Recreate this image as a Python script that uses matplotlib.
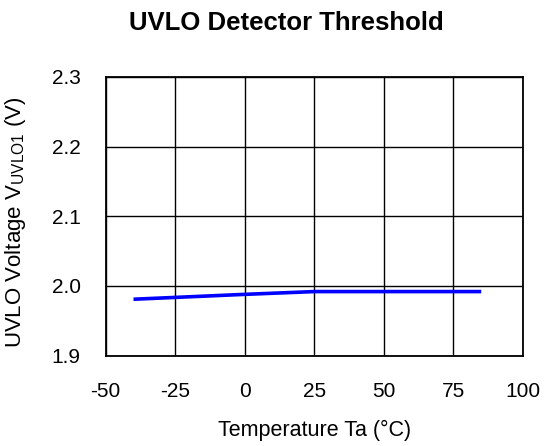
import matplotlib.pyplot as plt

temp = [-40, 0, 25, 85]
uvlo = [1.981, 1.988, 1.992, 1.992]

x_ticks = [-50, -25, 0, 25, 50, 75, 100]
y_ticks = [1.9, 2.0, 2.1, 2.2, 2.3]

plt.rcParams['font.family'] = ['Liberation Sans', 'DejaVu Sans']
plt.rcParams['mathtext.fontset'] = 'custom'
plt.rcParams['mathtext.rm'] = 'Liberation Sans'
plt.rcParams['axes.unicode_minus'] = False

fig = plt.figure(figsize=(5.44, 4.46), dpi=100)
ax = fig.add_axes([0.1943, 0.2025, 0.767, 0.625])

ax.plot(temp, uvlo, color='#0000ff', linewidth=2.6, solid_capstyle='butt')

ax.set_xlim(-50, 100)
ax.set_ylim(1.9, 2.3)
ax.set_xticks(x_ticks)
ax.set_yticks(y_ticks)
ax.set_yticklabels(['%.1f' % v for v in y_ticks])
ax.tick_params(length=0, labelsize=15)
ax.tick_params(axis='y', pad=18)
ax.tick_params(axis='x', pad=19)
ax.grid(color='black', linewidth=1.0)
ax.set_axisbelow(True)
for s in ax.spines.values():
    s.set_color('black')
    s.set_linewidth(1.3)

fig.text(286 / 544, 1 - 23 / 446, 'UVLO Detector Threshold',
         ha='center', va='center', fontsize=18.5, fontweight='bold')
fig.text(315 / 544, 1 - 430 / 446, 'Temperature Ta (°C)',
         ha='center', va='center', fontsize=15.5)
fig.text(16 / 544, 1 - 222 / 446,
         r'UVLO Voltage V$_{\mathrm{UVLO1}}$ (V)',
         ha='center', va='center', rotation=90, fontsize=16)

fig.savefig('out.png', dpi=100)
